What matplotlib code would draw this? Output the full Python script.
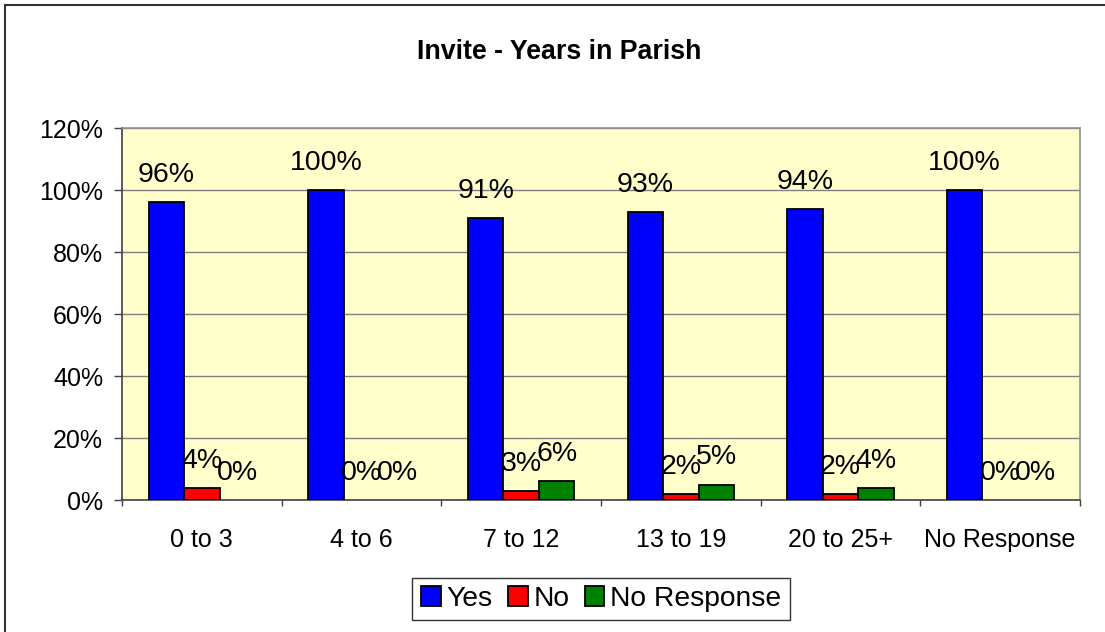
import matplotlib
matplotlib.use("Agg")
import matplotlib.pyplot as plt
from matplotlib.lines import Line2D
from matplotlib.patches import Patch
from matplotlib.ticker import FuncFormatter
import numpy as np

plt.rcParams['font.family'] = ['Liberation Sans', 'DejaVu Sans']

# data
groups = ["0 to 3", "4 to 6", "7 to 12", "13 to 19", "20 to 25+", "No Response"]
yes = [96, 100, 91, 93, 94, 100]
no = [4, 0, 3, 2, 2, 0]
no_resp = [0, 0, 6, 5, 4, 0]
series_names = ["Yes", "No", "No Response"]
colors = ["#0000FF", "#FF0000", "#008000"]

W, H = 1105, 632
fig = plt.figure(figsize=(W / 100, H / 100), dpi=100)
fig.patch.set_facecolor("white")

# plot area in pixel terms -> figure fractions
left, right, top, bottom = 122, 1080, 128, 500
ax = fig.add_axes([left / W, 1 - bottom / H, (right - left) / W, (bottom - top) / H])
ax.set_facecolor("#FFFFCC")

x = np.arange(len(groups))
w = 1 / 4.5   # excel gap width 150%
for i, (vals, c) in enumerate(zip([yes, no, no_resp], colors)):
    xs = x + (i - 1) * w
    edges = ["black" if v > 0 else "none" for v in vals]
    ax.bar(xs, vals, width=w, color=c, edgecolor=edges, linewidth=1.3, zorder=3)
    for xi, v in zip(xs, vals):
        ax.annotate(f"{v}%", (xi, v), xytext=(0, 14.4), textcoords="offset points",
                    ha="center", va="baseline", fontsize=20.5, zorder=4)

ax.set_xlim(-0.5, len(groups) - 0.5)
ax.set_ylim(0, 120)
ax.set_yticks(np.arange(0, 121, 20))
ax.yaxis.set_major_formatter(FuncFormatter(lambda v, p: f"{v:.0f}%"))
ax.yaxis.grid(True, color="#808080", linewidth=1.0, zorder=0)
ax.set_axisbelow(True)

# category labels at centres, tick marks at boundaries
ax.set_xticks(x)
ax.set_xticklabels(groups)
ax.set_xticks(np.arange(-0.5, len(groups)), minor=True)
ax.tick_params(axis="x", which="major", length=0, pad=20, labelsize=18)
ax.tick_params(axis="x", which="minor", length=4.5, width=1, color="#404040")
ax.tick_params(axis="y", length=5.5, width=1, color="#404040", pad=8, labelsize=18)

for s in ["left", "bottom"]:
    ax.spines[s].set_color("#404040")
    ax.spines[s].set_linewidth(1.2)
for s in ["top", "right"]:
    ax.spines[s].set_color("#909090")
    ax.spines[s].set_linewidth(1.2)

fig.text(559 / W, 1 - 52 / H, "Invite - Years in Parish", ha="center", va="center",
         fontsize=19.3, fontweight="bold")

handles = [Patch(facecolor=c, edgecolor="black", linewidth=1.3) for c in colors]
leg = fig.legend(handles, series_names, loc="center", bbox_to_anchor=(601 / W, 1 - 599 / H),
                 ncol=3, fontsize=20.3, frameon=True, fancybox=False, borderpad=0.3,
                 handlelength=0.7, handleheight=0.7, handletextpad=0.2, columnspacing=0.55)
leg.get_frame().set_edgecolor("black")
leg.get_frame().set_linewidth(1.0)

# outer chart border (only left and top visible in the crop)
fig.add_artist(Line2D([5 / W, 5 / W], [0, 1 - 5 / H], color="#333333", linewidth=1.5))
fig.add_artist(Line2D([5 / W, 1], [1 - 5 / H, 1 - 5 / H], color="#333333", linewidth=1.5))

fig.savefig("out.png", dpi=100)
